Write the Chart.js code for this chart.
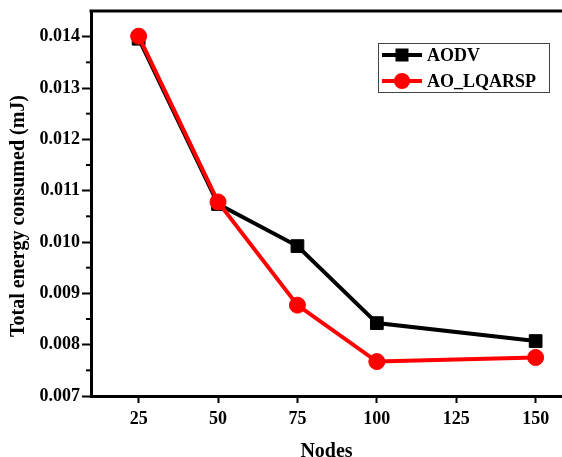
<!DOCTYPE html>
<html>
<head>
<meta charset="utf-8">
<script src="https://cdn.jsdelivr.net/npm/chart.js@4/dist/chart.umd.min.js"></script>
<style>
  html, body { margin: 0; padding: 0; background: #fff; overflow: hidden; }
  #wrap { width: 562px; height: 457px; }
</style>
</head>
<body>
<div id="wrap"><canvas id="chart"></canvas></div>
<script>
const nodes = [25, 50, 75, 100, 150];
const aodv = [0.01396, 0.01074, 0.00992, 0.00842, 0.00807];
const aoLqarsp = [0.01401, 0.01078, 0.00877, 0.00767, 0.00775];
const xTicks = [25, 50, 75, 100, 125, 150];
const yTicks = [0.007, 0.008, 0.009, 0.010, 0.011, 0.012, 0.013, 0.014];
const yTitle = 'Total energy consumed (mJ)';

const FONT = "'Liberation Serif', 'Times New Roman', serif";

function toPoints(values) {
  return nodes.map((n, i) => ({ x: n, y: values[i] }));
}

// frame top line, y minor ticks, y title, and the boxed legend
const decor = {
  id: 'decor',
  afterDraw(chart) {
    const { ctx, chartArea } = chart;
    const yScale = chart.scales.y;
    ctx.save();
    ctx.strokeStyle = '#000';
    ctx.lineWidth = 3;
    ctx.beginPath();
    ctx.moveTo(chartArea.left - 1.5, chartArea.top);
    ctx.lineTo(chartArea.right + 2, chartArea.top);
    ctx.stroke();

    ctx.lineWidth = 2;
    for (let v = 0.0075; v < 0.0145; v += 0.001) {
      const py = yScale.getPixelForValue(v);
      ctx.beginPath();
      ctx.moveTo(chartArea.left - 5, py);
      ctx.lineTo(chartArea.left, py);
      ctx.stroke();
    }

    // y title, sits a little below the middle like the original
    ctx.save();
    ctx.translate(19, 216);
    ctx.rotate(-Math.PI / 2);
    ctx.fillStyle = '#000';
    ctx.font = 'bold 20px ' + FONT;
    ctx.textAlign = 'center';
    ctx.textBaseline = 'middle';
    ctx.fillText(yTitle, 0, 0);
    ctx.restore();

    // legend
    ctx.lineWidth = 1;
    ctx.strokeStyle = '#444';
    ctx.strokeRect(378.5, 43.5, 171, 49);
    const rows = [55, 81];
    chart.data.datasets.forEach((ds, i) => {
      const y = rows[i];
      ctx.strokeStyle = ds.borderColor;
      ctx.lineWidth = 4;
      ctx.beginPath();
      ctx.moveTo(382, y);
      ctx.lineTo(422, y);
      ctx.stroke();
      ctx.fillStyle = ds.borderColor;
      if (ds.pointStyle === 'rect') {
        ctx.fillRect(402 - 6.5, y - 6.5, 13, 13);
      } else {
        ctx.beginPath();
        ctx.arc(402, y, 8, 0, Math.PI * 2);
        ctx.fill();
      }
      ctx.fillStyle = '#000';
      ctx.font = 'bold 18px ' + FONT;
      ctx.textBaseline = 'middle';
      ctx.fillText(ds.label, 427, y + 1);
    });
    ctx.restore();
  }
};

new Chart(document.getElementById('chart'), {
  type: 'line',
  data: {
    datasets: [
      {
        label: 'AODV',
        data: toPoints(aodv),
        borderColor: '#000000',
        backgroundColor: '#000000',
        borderWidth: 4,
        pointStyle: 'rect',
        pointRadius: 9,
        pointBorderWidth: 1,
        tension: 0,
        order: 2
      },
      {
        label: 'AO_LQARSP',
        data: toPoints(aoLqarsp),
        borderColor: '#ff0000',
        backgroundColor: '#ff0000',
        borderWidth: 4,
        pointStyle: 'circle',
        pointRadius: 8,
        pointBorderWidth: 1,
        tension: 0,
        order: 1
      }
    ]
  },
  options: {
    responsive: true,
    maintainAspectRatio: false,
    animation: false,
    layout: { autoPadding: false, padding: { top: 11, right: 0, left: 0, bottom: 0 } },
    plugins: {
      legend: { display: false },
      tooltip: { enabled: false }
    },
    scales: {
      x: {
        type: 'linear',
        min: 10,
        max: 158.3,
        afterBuildTicks: (scale) => { scale.ticks = xTicks.map(v => ({ value: v })); },
        afterFit: (scale) => {
          scale.height = 61;
          scale.paddingLeft = 0;
          scale.paddingRight = 0;
        },
        grid: { display: true, drawOnChartArea: false, tickLength: 7, tickWidth: 2, tickColor: '#000' },
        border: { display: true, color: '#000', width: 3 },
        ticks: {
          color: '#000',
          padding: 6,
          maxRotation: 0,
          font: { family: FONT, size: 18, weight: 'bold' }
        },
        title: {
          display: true,
          text: 'Nodes',
          color: '#000',
          padding: { top: 0, bottom: -5 },
          font: { family: FONT, size: 20, weight: 'bold', lineHeight: 1 }
        }
      },
      y: {
        min: 0.007,
        max: 0.0145,
        afterBuildTicks: (scale) => { scale.ticks = yTicks.map(v => ({ value: v })); },
        afterFit: (scale) => {
          scale.width = 91;
          scale.paddingTop = 0;
          scale.paddingBottom = 0;
        },
        grid: { display: true, drawOnChartArea: false, tickLength: 9, tickWidth: 2, tickColor: '#000' },
        border: { display: true, color: '#000', width: 3 },
        ticks: {
          color: '#000',
          padding: 2,
          callback: (v) => v.toFixed(3),
          font: { family: FONT, size: 18, weight: 'bold' }
        }
      }
    }
  },
  plugins: [decor]
});
</script>
</body>
</html>
